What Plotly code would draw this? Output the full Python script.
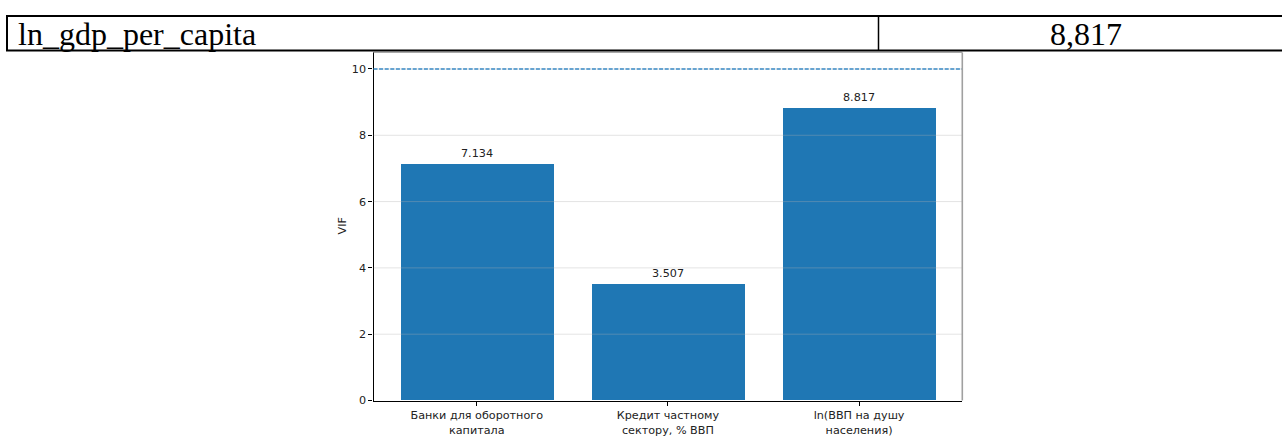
import plotly.graph_objects as go

# --- data -------------------------------------------------------------
categories = [
    "Банки для оборотного<br>капитала",
    "Кредит частному<br>сектору, % ВВП",
    "ln(ВВП на душу<br>населения)",
]
vif_values = [7.134, 3.507, 8.817]
vif_threshold = 10
y_ticks = [0, 2, 4, 6, 8, 10]
grid_levels = [2, 4, 6, 8, 10]

table_label = "ln_gdp_per_capita"
table_value = "8,817"

# --- page geometry (pixels) -------------------------------------------
W, H = 1282, 437


def px(x):
    return x / W


def py(y):
    return 1 - y / H


AX_L, AX_R, AX_T, AX_B = 373.5, 962.3, 52.4, 400.5
TEXT = "#222222"
BLUE = "#1f77b4"
TICK_FONT = dict(family="DejaVu Sans", size=11.2, color=TEXT)
SERIF = dict(family="Liberation Serif", size=32, color="black")

fig = go.Figure()
fig.add_trace(
    go.Bar(
        x=categories,
        y=vif_values,
        width=0.8,
        marker=dict(color=BLUE, line=dict(width=0)),
        hoverinfo="skip",
    )
)

shapes = []
# light grid drawn over the bars
for g in grid_levels:
    shapes.append(dict(type="line", layer="above", xref="x domain", yref="y",
                       x0=0, x1=1, y0=g, y1=g,
                       line=dict(color="rgba(176,176,176,0.35)", width=1)))
# threshold line
shapes.append(dict(type="line", layer="above", xref="x domain", yref="y",
                   x0=0, x1=1, y0=vif_threshold, y1=vif_threshold,
                   line=dict(color="#3a8ac6", width=1.3, dash="4px,1.6px")))
# top and right frame edges
shapes.append(dict(type="line", layer="above", xref="x domain", yref="y domain",
                   x0=0, x1=1, y0=1, y1=1, line=dict(color="#a8a8a8", width=1.3)))
shapes.append(dict(type="line", layer="above", xref="x domain", yref="y domain",
                   x0=1, x1=1, y0=0, y1=1, line=dict(color="#a0a0a0", width=1.6)))

# table row borders
TBL_T, TBL_B, TBL_L, TBL_MID = 16, 50.5, 7, 878.5
for y in (TBL_T, TBL_B):
    shapes.append(dict(type="line", layer="above", xref="paper", yref="paper",
                       x0=px(TBL_L - 1), x1=px(W + 5), y0=py(y), y1=py(y),
                       line=dict(color="black", width=2)))
shapes.append(dict(type="line", layer="above", xref="paper", yref="paper",
                   x0=px(TBL_L), x1=px(TBL_L), y0=py(TBL_T), y1=py(TBL_B),
                   line=dict(color="black", width=2)))
shapes.append(dict(type="line", layer="above", xref="paper", yref="paper",
                   x0=px(TBL_MID), x1=px(TBL_MID), y0=py(TBL_T), y1=py(TBL_B),
                   line=dict(color="black", width=1.5)))

annotations = []
# value labels above bars
for cat, v in zip(categories, vif_values):
    annotations.append(dict(x=cat, y=v, xref="x", yref="y", text=f"{v:.3f}",
                            showarrow=False, yanchor="bottom", yshift=2,
                            font=TICK_FONT))
# y axis title
annotations.append(dict(x=px(342), y=py((AX_T + AX_B) / 2), xref="paper", yref="paper",
                        text="VIF", textangle=-90, showarrow=False,
                        xanchor="center", yanchor="middle", font=TICK_FONT))
# table cells
annotations.append(dict(x=px(16), y=py(33.5), xref="paper", yref="paper",
                        text=table_label, showarrow=False, xanchor="left", yanchor="middle",
                        font=SERIF))
annotations.append(dict(x=px(1086), y=py(33.5), xref="paper", yref="paper",
                        text=table_value, showarrow=False, xanchor="center", yanchor="middle",
                        font=SERIF))

fig.update_layout(
    width=W, height=H,
    margin=dict(l=0, r=0, t=0, b=0),
    paper_bgcolor="white", plot_bgcolor="white",
    showlegend=False,
    bargap=0,
    shapes=shapes,
    annotations=annotations,
    xaxis=dict(
        domain=[px(AX_L), px(AX_R)],
        range=[-0.54, 2.54],
        automargin=False,
        showline=True, linecolor="black", linewidth=1.3,
        ticks="outside", ticklen=4, tickcolor="black", tickwidth=1,
        tickfont=TICK_FONT, showgrid=False, zeroline=False,
        fixedrange=True,
    ),
    yaxis=dict(
        domain=[py(AX_B), py(AX_T)],
        range=[0, 10.5],
        tickvals=y_ticks,
        automargin=False,
        showline=True, linecolor="black", linewidth=1.3,
        ticks="outside", ticklen=4, tickcolor="black", tickwidth=1,
        tickfont=TICK_FONT, showgrid=False, zeroline=False,
        fixedrange=True,
    ),
)

fig.write_html("out.html")
